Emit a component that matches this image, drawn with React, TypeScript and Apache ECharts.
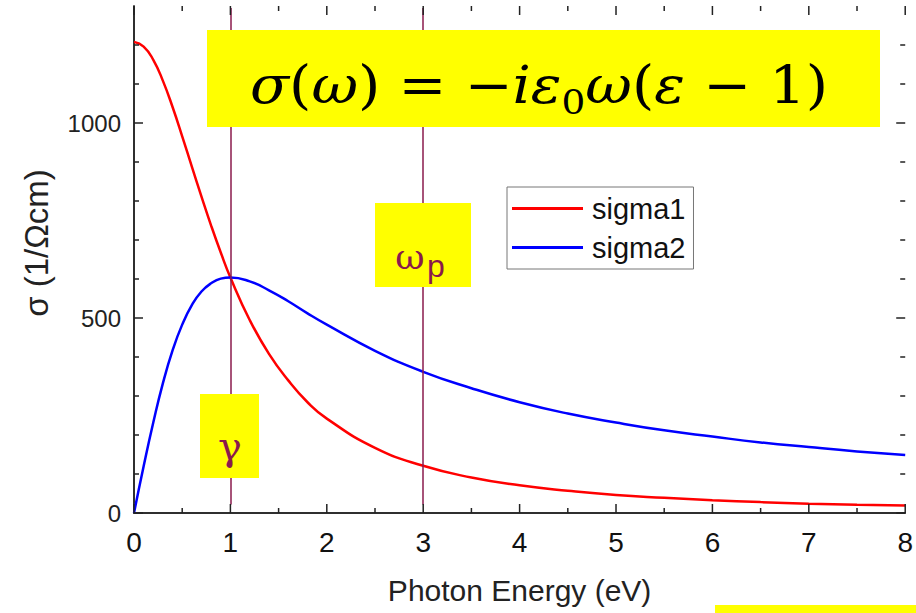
import React, { useEffect, useRef } from "react";
import * as echarts from "echarts";

const energies = [0, 0.1, 0.2, 0.3, 0.4, 0.5, 0.6, 0.7, 0.8, 0.9, 1.0, 1.2, 1.4, 1.6, 1.8, 2.0, 2.5, 3, 3.5, 4, 4.5, 5, 5.5, 6, 6.5, 7, 7.5, 8];
const sigma1 = [1208, 1196, 1162, 1108, 1041, 966, 888, 811, 737, 668, 604, 495, 408, 340, 284, 242, 167, 121, 91, 71, 57, 46, 39, 33, 28, 24, 21, 19];
const sigma2 = [0, 120, 232, 333, 417, 483, 533, 568, 589, 601, 604, 594, 571, 543, 512, 483, 416, 362, 320, 284, 255, 232, 212, 196, 181, 169, 158, 149];
const markers = [1, 3];
const yTickLabels = ["0", "500", "1000"];
const xMajorTicks = [0, 1, 2, 3, 4, 5, 6, 7, 8];
const xMinorTicks = [0.5, 1.5, 2.5, 3.5, 4.5, 5.5, 6.5, 7.5];
const yMajorTicks = [0, 500, 1000];
const yMinorTicks = [100, 200, 300, 400, 600, 700, 800, 900, 1100, 1200];

const CRIMSON = "#8a1a4c";
const YELLOW = "#ffff00";
const SANS = "Liberation Sans, Arial, sans-serif";
const SERIF = "DejaVu Serif, serif";

export default function App() {
  const ref = useRef<HTMLDivElement>(null);
  useEffect(() => {
    if (!ref.current) return;
    const chart = echarts.init(ref.current, undefined, { renderer: "svg" });
    const axisLine = { show: true, lineStyle: { color: "#222", width: 1.5 } };
    const noTick = { show: false };
    const tickStyle = { stroke: "#222", lineWidth: 1.5 };

    const renderTicks = (_params: any, api: any) => {
      const children: any[] = [];
      const xT = (v: number, len: number) => {
        const b = api.coord([v, 0]);
        const t = api.coord([v, 1300]);
        children.push({ type: "line", shape: { x1: b[0], y1: b[1], x2: b[0], y2: b[1] - len }, style: tickStyle });
        children.push({ type: "line", shape: { x1: t[0], y1: t[1], x2: t[0], y2: t[1] + len }, style: tickStyle });
      };
      const yT = (v: number, len: number) => {
        const l = api.coord([0, v]);
        const r = api.coord([8, v]);
        children.push({ type: "line", shape: { x1: l[0], y1: l[1], x2: l[0] + len, y2: l[1] }, style: tickStyle });
        children.push({ type: "line", shape: { x1: r[0], y1: r[1], x2: r[0] - len, y2: r[1] }, style: tickStyle });
      };
      xMajorTicks.forEach((v) => xT(v, 9));
      xMinorTicks.forEach((v) => xT(v, 5));
      yMajorTicks.forEach((v) => yT(v, 9));
      yMinorTicks.forEach((v) => yT(v, 5));
      return { type: "group", children };
    };

    chart.setOption({
      animation: false,
      backgroundColor: "#ffffff",
      grid: { left: 134, top: 6, width: 773, height: 507, containLabel: false },
      legend: {
        orient: "vertical",
        left: 507,
        top: 187,
        padding: [7, 8, 7, 5],
        itemGap: 10,
        itemWidth: 71,
        itemHeight: 3,
        icon: "rect",
        borderColor: "#777",
        borderWidth: 1,
        textStyle: { fontSize: 29, color: "#111", fontFamily: SANS, padding: [0, 0, 0, 4] },
        data: ["sigma1", "sigma2"],
      },
      xAxis: [
        {
          type: "value",
          min: 0,
          max: 8,
          interval: 1,
          axisLine,
          axisTick: noTick,
          minorTick: noTick,
          splitLine: { show: false },
          axisLabel: { fontSize: 28, color: "#111", margin: 15, fontFamily: SANS },
          name: "Photon Energy (eV)",
          nameLocation: "middle",
          nameGap: 62,
          nameTextStyle: { fontSize: 30, color: "#222", fontFamily: SANS },
        },
        {
          type: "value",
          position: "top",
          min: 0,
          max: 8,
          interval: 1,
          axisLine,
          axisTick: noTick,
          minorTick: noTick,
          axisLabel: { show: false },
          splitLine: { show: false },
        },
      ],
      yAxis: [
        {
          type: "value",
          min: 0,
          max: 1300,
          interval: 500,
          axisLine,
          axisTick: noTick,
          minorTick: noTick,
          splitLine: { show: false },
          axisLabel: {
            fontSize: 24,
            color: "#222",
            margin: 13,
            fontFamily: SANS,
            showMaxLabel: false,
            formatter: (v: number) => yTickLabels[Math.round(v / 500)] ?? "",
          },
        },
        {
          type: "value",
          position: "right",
          min: 0,
          max: 1300,
          interval: 500,
          axisLine,
          axisTick: noTick,
          minorTick: noTick,
          axisLabel: { show: false },
          splitLine: { show: false },
        },
      ],
      series: [
        {
          name: "ticks",
          type: "custom",
          clip: false,
          silent: true,
          renderItem: renderTicks,
          data: [[0, 0]],
          z: 5,
        },
        {
          name: "sigma1",
          type: "line",
          smooth: true,
          symbol: "none",
          showSymbol: false,
          color: "#ff0000",
          lineStyle: { color: "#ff0000", width: 2.5 },
          data: energies.map((e, i) => [e, sigma1[i]]),
          z: 3,
          markLine: {
            silent: true,
            symbol: "none",
            label: { show: false },
            lineStyle: { color: CRIMSON, width: 1.5, type: "solid" },
            data: markers.map((m) => [
              { coord: [m, 22] },
              { coord: [m, 1295] },
            ]),
          },
        },
        {
          name: "sigma2",
          type: "line",
          smooth: true,
          symbol: "none",
          showSymbol: false,
          color: "#0000ff",
          lineStyle: { color: "#0000ff", width: 2.5 },
          data: energies.map((e, i) => [e, sigma2[i]]),
          z: 3,
        },
      ],
      graphic: [
        {
          type: "text",
          x: 36,
          y: 243,
          rotation: Math.PI / 2,
          z: 11,
          style: {
            text: "σ (1/Ωcm)",
            align: "center",
            verticalAlign: "middle",
            fontSize: 33,
            fontFamily: SANS,
            fill: "#222",
          },
        },
        {
          type: "rect",
          shape: { x: 207, y: 30, width: 673, height: 97 },
          style: { fill: YELLOW },
          z: 10,
        },
        {
          type: "text",
          x: 539,
          y: 85,
          scaleX: 1.1,
          z: 11,
          style: {
            text: "{i|σ}{u|(}{i|ω}{u|) = −}{i|iε}{s|0}{i|ω}{u|(}{i|ε}{u| − 1)}",
            align: "center",
            verticalAlign: "middle",
            rich: {
              u: { fontSize: 52, fontFamily: SERIF, fill: "#000" },
              i: { fontSize: 52, fontFamily: SERIF, fontStyle: "italic", fill: "#000" },
              s: { fontSize: 34, fontFamily: SERIF, fill: "#000", verticalAlign: "bottom", lineHeight: 68 },
            },
          },
        },
        {
          type: "rect",
          shape: { x: 200, y: 394, width: 59, height: 84 },
          style: { fill: YELLOW },
          z: 10,
        },
        {
          type: "text",
          x: 230,
          y: 446,
          z: 11,
          style: {
            text: "γ",
            align: "center",
            verticalAlign: "middle",
            fontSize: 40,
            fontFamily: SERIF,
            fill: CRIMSON,
          },
        },
        {
          type: "rect",
          shape: { x: 375, y: 203, width: 96, height: 84 },
          style: { fill: YELLOW },
          z: 10,
        },
        {
          type: "text",
          x: 410,
          y: 256,
          z: 11,
          style: {
            text: "ω",
            align: "center",
            verticalAlign: "middle",
            fontSize: 36,
            fontFamily: SERIF,
            fill: CRIMSON,
          },
        },
        {
          type: "text",
          x: 427,
          y: 266,
          z: 11,
          style: {
            text: "p",
            align: "left",
            verticalAlign: "middle",
            fontSize: 32,
            fontFamily: SANS,
            fill: CRIMSON,
          },
        },
        {
          type: "rect",
          shape: { x: 715, y: 605, width: 201, height: 8 },
          style: { fill: YELLOW },
          z: 10,
        },
      ],
    });
    return () => chart.dispose();
  }, []);
  return (
    <div
      ref={ref}
      style={{ position: "fixed", left: 0, top: 0, width: 916, height: 613 }}
    />
  );
}
